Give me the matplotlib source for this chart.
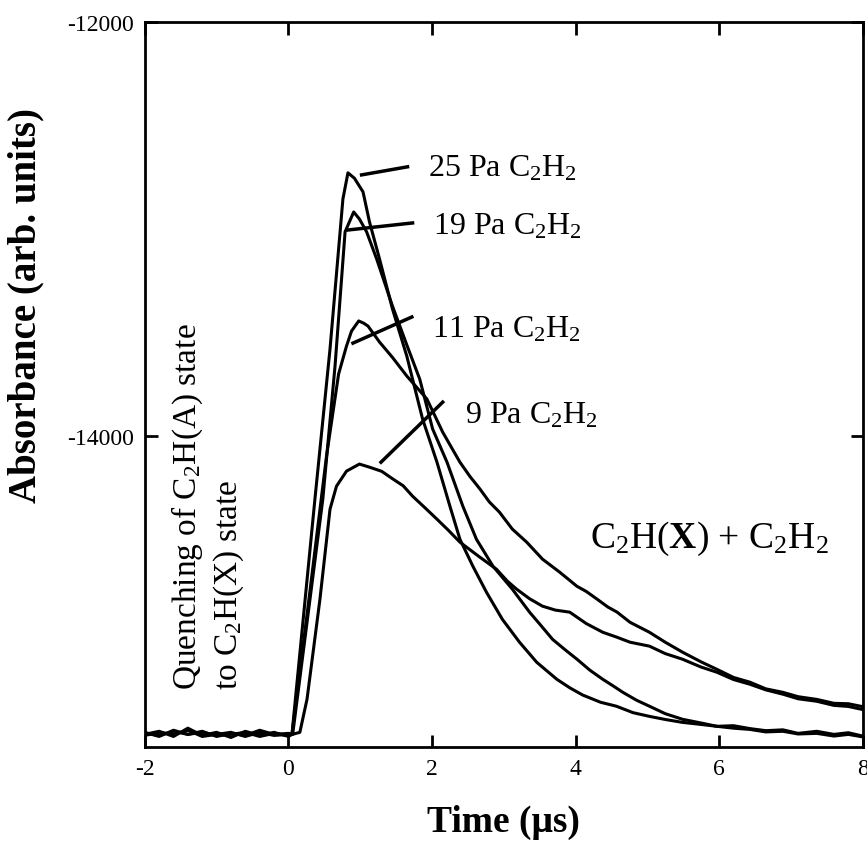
import numpy as np
import matplotlib.pyplot as plt

plt.rcParams['font.family'] = ['Liberation Serif', 'DejaVu Serif']
plt.rcParams['mathtext.fontset'] = 'custom'
plt.rcParams['mathtext.rm'] = 'Liberation Serif'
plt.rcParams['mathtext.it'] = 'Liberation Serif:italic'
plt.rcParams['mathtext.bf'] = 'Liberation Serif:bold'
plt.rcParams['axes.unicode_minus'] = False

# (time in us, absorbance)
trace_25 = [(-2.0, -15440), (-1.8, -15425), (-1.6, -15450), (-1.4, -15410), (-1.2, -15445),
            (-1.0, -15430), (-0.8, -15455), (-0.6, -15425), (-0.4, -15445), (-0.2, -15430),
            (0.0, -15450), (0.05, -15440), (0.37, -14304), (0.58, -13580), (0.76, -12855),
            (0.83, -12729), (0.92, -12755), (1.04, -12821), (1.13, -12966), (1.27, -13145),
            (1.45, -13386), (1.65, -13614), (1.73, -13725), (1.87, -13918), (2.07, -14126),
            (2.25, -14338), (2.39, -14498), (2.57, -14628), (2.76, -14754), (2.98, -14884),
            (3.22, -14995), (3.46, -15092), (3.74, -15174), (3.92, -15215), (4.1, -15250),
            (4.35, -15285), (4.57, -15304), (4.8, -15335), (5.03, -15353), (5.25, -15368),
            (5.49, -15382), (5.75, -15392), (5.97, -15401), (6.2, -15398), (6.43, -15412),
            (6.65, -15422), (6.89, -15418), (7.1, -15435), (7.36, -15425), (7.6, -15440),
            (7.8, -15432), (8.0, -15448)]

trace_19 = [(-2.0, -15430), (-1.8, -15450), (-1.6, -15420), (-1.4, -15440), (-1.2, -15425),
            (-1.0, -15450), (-0.8, -15435), (-0.6, -15445), (-0.4, -15420), (-0.2, -15440),
            (0.0, -15435), (0.06, -15440), (0.48, -14304), (0.65, -13662), (0.79, -13014),
            (0.91, -12918), (0.99, -12952), (1.09, -13014), (1.23, -13145), (1.45, -13372),
            (1.65, -13560), (1.83, -13725), (2.01, -13966), (2.21, -14126), (2.43, -14338),
            (2.62, -14498), (2.85, -14628), (3.12, -14739), (3.36, -14850), (3.52, -14915),
            (3.68, -14981), (3.85, -15030), (4.02, -15077), (4.2, -15130), (4.38, -15174),
            (4.52, -15205), (4.66, -15237), (4.85, -15275), (5.03, -15304), (5.25, -15340),
            (5.49, -15367), (5.75, -15385), (5.97, -15401), (6.2, -15410), (6.43, -15416),
            (6.65, -15428), (6.89, -15425), (7.1, -15438), (7.36, -15435), (7.6, -15448),
            (7.8, -15440), (8.0, -15452)]

trace_11 = [(-2.0, -15445), (-1.8, -15430), (-1.6, -15440), (-1.4, -15420), (-1.2, -15450),
            (-1.0, -15440), (-0.8, -15430), (-0.6, -15450), (-0.4, -15430), (-0.2, -15445),
            (0.0, -15440), (0.05, -15440), (0.3, -14750), (0.53, -14100), (0.7, -13700),
            (0.81, -13565), (0.88, -13493), (0.98, -13444), (1.05, -13455), (1.11, -13469),
            (1.27, -13546), (1.45, -13620), (1.65, -13710), (1.93, -13821), (2.15, -13981),
            (2.39, -14126), (2.53, -14195), (2.67, -14256), (2.8, -14318), (2.94, -14367),
            (3.12, -14449), (3.32, -14512), (3.54, -14594), (3.78, -14657), (4.02, -14725),
            (4.15, -14750), (4.3, -14787), (4.45, -14825), (4.58, -14850), (4.76, -14899),
            (5.03, -14947), (5.25, -14995), (5.49, -15043), (5.75, -15090), (5.97, -15126),
            (6.2, -15165), (6.43, -15188), (6.65, -15220), (6.89, -15237), (7.1, -15258),
            (7.36, -15271), (7.6, -15290), (7.8, -15292), (8.0, -15306)]

trace_9 = [(-2.0, -15435), (-1.8, -15445), (-1.6, -15425), (-1.4, -15440), (-1.2, -15430),
           (-1.0, -15445), (-0.8, -15440), (-0.6, -15430), (-0.4, -15450), (-0.2, -15435),
           (0.0, -15445), (0.16, -15430), (0.26, -15270), (0.44, -14787), (0.58, -14353),
           (0.67, -14242), (0.81, -14169), (0.99, -14135), (1.13, -14150), (1.3, -14170),
           (1.46, -14208), (1.6, -14240), (1.73, -14290), (1.9, -14345), (2.07, -14401),
           (2.23, -14455), (2.39, -14512), (2.65, -14580), (2.9, -14643), (3.05, -14700),
           (3.18, -14739), (3.36, -14785), (3.54, -14821), (3.72, -14840), (3.92, -14850),
           (4.15, -14905), (4.38, -14947), (4.57, -14970), (4.76, -14995), (5.03, -15014),
           (5.25, -15050), (5.49, -15077), (5.75, -15115), (5.97, -15140), (6.2, -15175),
           (6.43, -15198), (6.65, -15225), (6.89, -15246), (7.1, -15268), (7.36, -15280),
           (7.6, -15300), (7.8, -15305), (8.0, -15320)]

labels = ['25 Pa C$_2$H$_2$', '19 Pa C$_2$H$_2$', '11 Pa C$_2$H$_2$', '9 Pa C$_2$H$_2$']
label_pos = [(1.94, -12744), (2.01, -13024), (2.0, -13517), (2.46, -13932)]
leaders = [((1.02, 1.66), (-12739, -12700)),
           ((0.83, 1.73), (-13005, -12971)),
           ((0.90, 1.72), (-13551, -13425)),
           ((1.29, 2.15), (-14126, -13836))]

fig = plt.figure(figsize=(8.67, 8.45), dpi=100)
ax = fig.add_axes([0.167, 0.115, 0.828, 0.858])

for trace in [trace_25, trace_19, trace_11, trace_9]:
    t, v = zip(*trace)
    ax.plot(t, v, color='black', lw=2.2)

for lab, (x, y) in zip(labels, label_pos):
    ax.text(x, y, lab, fontsize=23, ha='left', va='baseline')
for xs, ys in leaders:
    ax.plot(xs, ys, color='black', lw=2.5)

ax.text(4.2, -14536, r'C$_2$H($\mathbf{X}$) + C$_2$H$_2$', fontsize=27,
        ha='left', va='baseline')
ax.text(-1.415, -15222, r'Quenching of C$_2$H(A) state', fontsize=24,
        rotation=90, ha='center', va='bottom')
ax.text(-0.83, -15222, r'to C$_2$H(X) state', fontsize=24,
        rotation=90, ha='center', va='bottom')

ax.set_xlim(-2, 8)
ax.set_ylim(-15500, -12000)
ax.set_xticks([-2, 0, 2, 4, 6, 8])
ax.set_yticks([-14000, -12000])
ax.tick_params(direction='in', length=9, width=2, top=True, right=True,
               labelsize=17, pad=8)
for s in ax.spines.values():
    s.set_linewidth(2)

ax.set_xlabel('Time (\u03bcs)', fontsize=27, fontweight='bold')
ax.set_ylabel('Absorbance (arb. units)', fontsize=28, fontweight='bold')
ax.xaxis.set_label_coords(0.5, -0.078)
ax.yaxis.set_label_coords(-0.14, 0.61)

fig.savefig('out.png', dpi=100)
